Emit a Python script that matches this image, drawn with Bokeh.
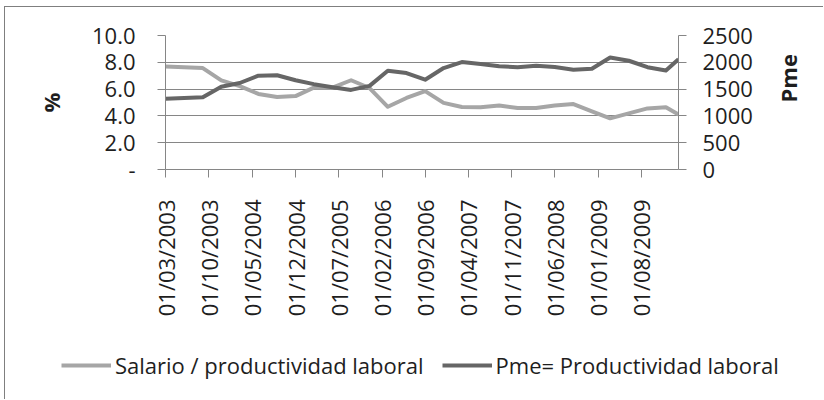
import math
from datetime import datetime
from bokeh.plotting import figure
from bokeh.models import (Range1d, LinearAxis, FixedTicker, DatetimeTickFormatter,
                          Legend, LegendItem, ColumnDataSource)
from bokeh.embed import file_html
from bokeh.resources import INLINE

# ---- data ----
dates = ["2003-03-01", "2003-06-01", "2003-09-01", "2003-12-01",
         "2004-03-01", "2004-06-01", "2004-09-01", "2004-12-01",
         "2005-03-01", "2005-06-01", "2005-09-01", "2005-12-01",
         "2006-03-01", "2006-06-01", "2006-09-01", "2006-12-01",
         "2007-03-01", "2007-06-01", "2007-09-01", "2007-12-01",
         "2008-03-01", "2008-06-01", "2008-09-01", "2008-12-01",
         "2009-03-01", "2009-06-01", "2009-09-01", "2009-12-01",
         "2010-02-01"]
salario = [7.69, 7.63, 7.57, 6.65, 6.22, 5.64, 5.41, 5.48, 6.11, 6.11,
           6.66, 6.08, 4.68, 5.34, 5.85, 4.97, 4.67, 4.65, 4.77, 4.59,
           4.59, 4.77, 4.88, 4.34, 3.82, 4.19, 4.56, 4.65, 4.10]
pme = [1322, 1333, 1346, 1545, 1614, 1750, 1759, 1666, 1592, 1536,
       1485, 1560, 1843, 1800, 1675, 1893, 2005, 1969, 1927, 1908,
       1936, 1912, 1862, 1880, 2089, 2029, 1908, 1848, 2057]

series_names = ["Salario / productividad laboral", "Pme= Productividad laboral"]
series_colors = ["#a6a6a6", "#666666"]

x_tick_labels = ["01/03/2003", "01/10/2003", "01/05/2004", "01/12/2004",
                 "01/07/2005", "01/02/2006", "01/09/2006", "01/04/2007",
                 "01/11/2007", "01/06/2008", "01/01/2009", "01/08/2009"]
y_left_ticks = [0, 2, 4, 6, 8, 10]
y_left_labels = ["-", "2.0", "4.0", "6.0", "8.0", "10.0"]
y_right_ticks = [0, 500, 1000, 1500, 2000, 2500]

x_start, x_end = "2003-03-01", "2010-02-01"

# ---- build ----
def to_dt(s):
    return datetime.strptime(s, "%Y-%m-%d")

def lbl_dt(s):
    return datetime.strptime(s, "%d/%m/%Y")

def ms(d):
    return (d - datetime(1970, 1, 1)).total_seconds() * 1000.0

src = ColumnDataSource(dict(date=[to_dt(d) for d in dates], salario=salario, pme=pme))

FONT = "Open Sans"
GRID = "#868686"
TXT = "#1e1e1e"
BORDER = "1.5px solid #7f7f7f"
W = 819
HA = 322
HB = 71

p = figure(width=W, height=HA, x_axis_type="datetime",
           x_range=Range1d(to_dt(x_start), to_dt(x_end)),
           y_range=Range1d(0, 10),
           output_backend="svg", toolbar_location=None,
           min_border_left=160, min_border_right=146,
           min_border_top=28, min_border_bottom=160)
p.styles = {"border-left": BORDER, "border-top": BORDER,
            "margin-left": "4px", "margin-top": "6px"}
p.outline_line_color = None
p.background_fill_color = "white"
p.border_fill_color = "white"

p.extra_y_ranges = {"pme": Range1d(0, 2500)}

# x axis
xa = p.xaxis[0]
tick_ms = [ms(lbl_dt(s)) for s in x_tick_labels]
xa.ticker = FixedTicker(ticks=tick_ms)
fmt = "%d/%m/%Y"
xa.formatter = DatetimeTickFormatter(milliseconds=fmt, seconds=fmt, minsec=fmt, minutes=fmt,
                                     hourmin=fmt, hours=fmt, days=fmt, months=fmt, years=fmt)
xa.major_label_overrides = {t: s for t, s in zip(tick_ms, x_tick_labels)}
xa.major_label_orientation = math.pi / 2
xa.minor_tick_line_color = None
xa.major_tick_in = 0
xa.major_tick_out = 8
xa.major_label_standoff = 22
xa.axis_line_color = GRID
xa.major_tick_line_color = GRID
xa.major_label_text_font = FONT
xa.major_label_text_font_size = "22px"
xa.major_label_text_color = TXT

# left axis
ya = p.yaxis[0]
ya.ticker = FixedTicker(ticks=y_left_ticks)
ya.major_label_overrides = {t: s for t, s in zip(y_left_ticks, y_left_labels)}
ya.minor_tick_line_color = None
ya.major_tick_in = 0
ya.major_tick_out = 8
ya.major_label_standoff = 22
ya.axis_line_color = GRID
ya.major_tick_line_color = GRID
ya.major_label_text_font = FONT
ya.major_label_text_font_size = "22px"
ya.major_label_text_color = TXT
ya.axis_label = "%"
ya.axis_label_text_font = FONT
ya.axis_label_text_font_size = "22px"
ya.axis_label_text_font_style = "bold"
ya.axis_label_text_color = TXT
ya.axis_label_standoff = 23

# right axis
ra = LinearAxis(y_range_name="pme", ticker=FixedTicker(ticks=y_right_ticks))
ra.minor_tick_line_color = None
ra.major_tick_in = 0
ra.major_tick_out = 8
ra.major_label_standoff = 16
ra.axis_line_color = GRID
ra.major_tick_line_color = GRID
ra.major_label_text_font = FONT
ra.major_label_text_font_size = "22px"
ra.major_label_text_color = TXT
ra.axis_label = "Pme"
ra.axis_label_text_font = FONT
ra.axis_label_text_font_size = "22px"
ra.axis_label_text_font_style = "bold"
ra.axis_label_text_color = TXT
ra.axis_label_standoff = 32
if "axis_label_orientation" in ra.properties():
    ra.axis_label_orientation = math.pi / 2
p.add_layout(ra, "right")

# grid
p.xgrid.grid_line_color = None
p.ygrid.ticker = FixedTicker(ticks=y_left_ticks)
p.ygrid.grid_line_color = GRID
p.ygrid.grid_line_width = 1

r1 = p.line(x="date", y="salario", source=src, line_color=series_colors[0],
            line_width=4, line_join="round")
r2 = p.line(x="date", y="pme", source=src, y_range_name="pme",
            line_color=series_colors[1], line_width=4, line_join="round")

# legend strip below the chart (separate root; hidden copies of the series as legend keys)
q = figure(width=W, height=HB, x_axis_type="datetime",
           x_range=Range1d(to_dt(x_start), to_dt(x_end)), y_range=Range1d(0, 10),
           output_backend="svg", toolbar_location=None,
           min_border=0, x_axis_location=None, y_axis_location=None)
q.styles = {"border-left": BORDER, "margin-left": "4px"}
q.extra_y_ranges = {"pme": Range1d(0, 2500)}
q.outline_line_color = None
q.grid.visible = False
q.background_fill_color = "white"
q.border_fill_color = "white"
k1 = q.line(x="date", y="salario", source=src, line_color=series_colors[0],
            line_width=4, visible=False)
k2 = q.line(x="date", y="pme", source=src, y_range_name="pme",
            line_color=series_colors[1], line_width=4, visible=False)
legend = Legend(items=[LegendItem(label=series_names[0], renderers=[k1]),
                       LegendItem(label=series_names[1], renderers=[k2])],
                location=(56, 19), orientation="horizontal",
                glyph_width=50, glyph_height=20, label_standoff=4, spacing=18,
                padding=0, margin=0, border_line_color=None,
                background_fill_alpha=0, inactive_fill_alpha=0,
                label_text_font=FONT, label_text_font_size="22px",
                label_text_color=TXT)
q.add_layout(legend)

open("out.html", "w").write(file_html([p, q], INLINE))
